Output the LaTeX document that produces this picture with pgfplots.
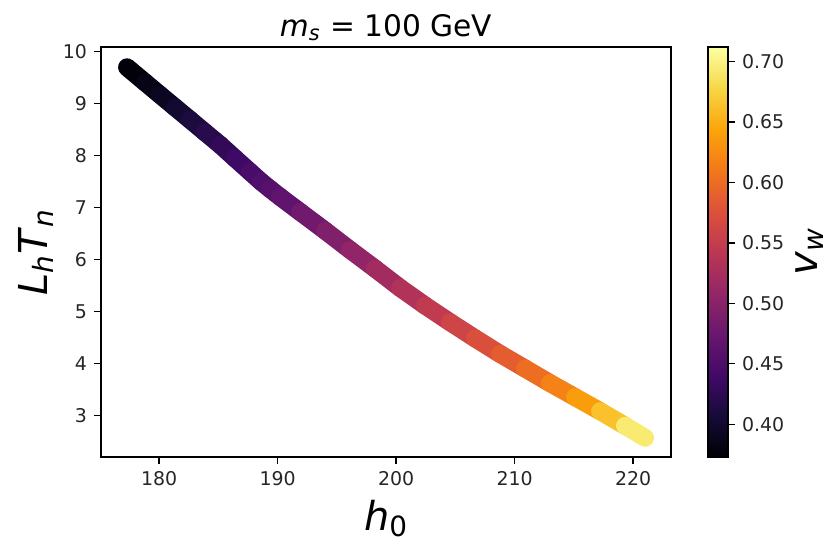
\documentclass[border=0pt]{standalone}
\usepackage{pgfplots}
\pgfplotsset{compat=1.18}
\usepackage{fontspec}
\setmainfont{DejaVu Sans}
\pgfplotstableread{
x y v
177.30 9.70 0.373
178.82 9.41 0.380
180.08 9.17 0.388
181.35 8.93 0.397
182.62 8.69 0.407
183.88 8.45 0.416
185.15 8.21 0.425
186.41 7.95 0.434
187.68 7.69 0.443
188.61 7.50 0.450
189.37 7.36 0.456
190.21 7.21 0.462
191.90 6.92 0.473
194.01 6.56 0.486
196.12 6.19 0.500
198.23 5.83 0.514
200.34 5.46 0.528
202.45 5.12 0.541
204.56 4.80 0.554
206.67 4.49 0.567
208.78 4.19 0.580
210.89 3.91 0.594
212.99 3.63 0.609
215.11 3.36 0.627
217.22 3.09 0.650
219.32 2.81 0.678
221.01 2.58 0.710
}\datatab
\begin{document}
\begin{tikzpicture}
\begin{axis}[
  name=main, at={(0,0)}, anchor=south west,
  scale only axis, width=285bp, height=205bp,
  xmin=175.1, xmax=223.2, ymin=2.21, ymax=10.09,
  xtick={180,190,200,210,220}, ytick={3,4,5,6,7,8,9,10},
  tick align=outside, major tick length=3.5bp,
  tick style={black, line width=0.6bp},
  axis line style={black, line width=0.75bp},
  xtick pos=bottom, ytick pos=left,
  /pgf/number format/assume math mode=true,
  tick label style={font=\fontsize{9.5}{11}\selectfont, text=black!85},
  title={\textit{m}\textsubscript{\textit{s}} = 100 GeV},
  title style={at={(axis description cs:0.5,1)}, anchor=base, yshift=-0.5bp, font=\fontsize{14.9}{17}\selectfont},
  xlabel={\textit{h}\textsubscript{0}},
  xlabel style={at={(axis description cs:0.5,0)}, anchor=base, yshift=-36.5bp, font=\fontsize{20}{24}\selectfont},
  ylabel={\textit{L}\textsubscript{\textit{h}}\textit{T}\textsubscript{\textit{n}}},
  ylabel style={at={(axis description cs:-0.0947,0.5)}, anchor=base, font=\fontsize{20}{24}\selectfont},
  colormap={inferno}{rgb255=(0,0,4) rgb255=(22,11,57) rgb255=(66,10,104) rgb255=(106,23,110) rgb255=(147,38,103) rgb255=(188,55,84) rgb255=(221,81,58) rgb255=(243,120,25) rgb255=(252,165,10) rgb255=(246,215,70) rgb255=(252,255,164)},
  point meta min=0.373, point meta max=0.712,
  colorbar,
  colorbar style={
    width=10bp, at={(parent axis.north east)}, anchor=north west, xshift=10bp,
    ytick={0.40,0.45,0.50,0.55,0.60,0.65,0.70},
    ytick pos=right,
    tick align=outside, major tick length=3.5bp,
    tick style={black, line width=0.6bp},
    axis line style={black, line width=0.75bp},
    yticklabel style={font=\fontsize{9.5}{11}\selectfont, text=black!85,
      /pgf/number format/fixed, /pgf/number format/precision=2, /pgf/number format/fixed zerofill,
      /pgf/number format/assume math mode=true},
    ylabel={\textit{v}\textsubscript{\textit{w}}},
    ylabel style={at={(axis description cs:5.45,0.5)}, anchor=base, font=\fontsize{20}{24}\selectfont},
  },
]
\addplot[mesh, line width=9bp, line cap=round, point meta=explicit] table[x=x, y=y, meta=v] {\datatab};
\end{axis}
\pgfresetboundingbox
\path[use as bounding box] (-50.5bp,-45bp) rectangle (365.5bp,228.5bp);
\end{tikzpicture}
\end{document}
